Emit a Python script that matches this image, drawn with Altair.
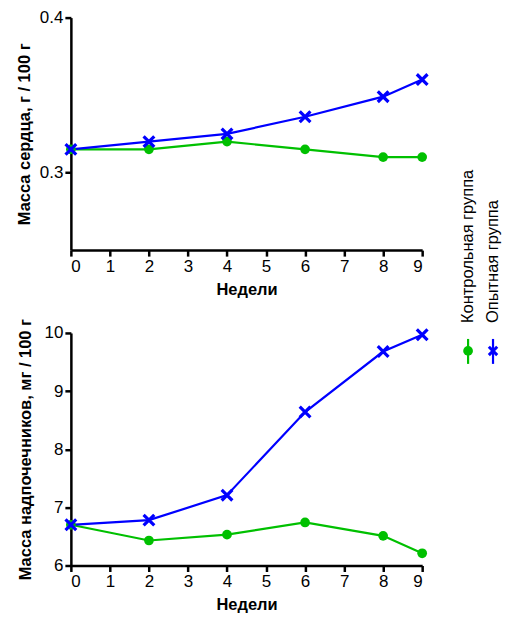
import altair as alt
import pandas as pd

weeks = [0, 2, 4, 6, 8, 9]
series_names = ["Контрольная группа", "Опытная группа"]
heart_control = [0.315, 0.315, 0.320, 0.315, 0.310, 0.310]
heart_exp = [0.315, 0.320, 0.325, 0.336, 0.349, 0.360]
adrenal_control = [6.70, 6.43, 6.53, 6.74, 6.51, 6.21]
adrenal_exp = [6.70, 6.78, 7.21, 8.64, 9.68, 9.97]
x_ticks = [0, 1, 2, 3, 4, 5, 6, 7, 8, 9]
heart_ticks = [0.3, 0.4]
adrenal_ticks = [6, 7, 8, 9, 10]

GREEN = "#00c000"
BLUE = "#0000ff"
XPATH = "M-1,-1L1,1M-1,1L1,-1"
FONT = "Liberation Sans"


def long_df(ctrl, exp):
    rows = []
    for w, v in zip(weeks, ctrl):
        rows.append({"week": w, "value": v, "series": series_names[0]})
    for w, v in zip(weeks, exp):
        rows.append({"week": w, "value": v, "series": series_names[1]})
    return pd.DataFrame(rows)


color = alt.Color("series:N", scale=alt.Scale(domain=series_names, range=[GREEN, BLUE]), legend=None)


def panel(df, ytitle, ydomain, yticks, yfmt, tpad):
    x = alt.X("week:Q", scale=alt.Scale(domain=[0, 9], nice=False),
              axis=alt.Axis(values=x_ticks, title="Недели", format="d", titlePadding=7))
    y = alt.Y("value:Q", scale=alt.Scale(domain=ydomain, nice=False, zero=False),
              axis=alt.Axis(values=yticks, title=ytitle, format=yfmt, titlePadding=tpad))
    base = alt.Chart(df).encode(x=x, y=y, color=color)
    line = base.mark_line(strokeWidth=2.2)
    pc = base.transform_filter(alt.datum.series == series_names[0]).mark_point(
        shape="circle", filled=True, size=95, opacity=1)
    px = base.transform_filter(alt.datum.series == series_names[1]).mark_point(
        shape=XPATH, filled=False, size=115, strokeWidth=3.2, opacity=1)
    return alt.layer(line, pc, px).properties(width=352, height=233)


top = panel(long_df(heart_control, heart_exp), "Масса сердца, г / 100 г", [0.25, 0.4], heart_ticks, ".1f", 7)
bottom = panel(long_df(adrenal_control, adrenal_exp), "Масса надпочечников, мг / 100 г", [6, 10], adrenal_ticks, "d", 11)

# custom rotated legend
leg_df = pd.DataFrame({"series": series_names})
lx = alt.X("series:N", scale=alt.Scale(type="point", padding=0, domain=series_names, range=[34, 59]), axis=None)
lbase = alt.Chart(leg_df).encode(x=lx, color=color)
leg_rule = lbase.mark_rule(strokeWidth=2.2).encode(y=alt.value(322), y2=alt.value(347))
leg_pc = lbase.transform_filter(alt.datum.series == series_names[0]).mark_point(
    shape="circle", filled=True, size=95, opacity=1).encode(y=alt.value(334))
leg_px = lbase.transform_filter(alt.datum.series == series_names[1]).mark_point(
    shape=XPATH, filled=False, size=70, strokeWidth=3, opacity=1).encode(y=alt.value(334))
leg_text = alt.Chart(leg_df).mark_text(angle=270, align="left", baseline="middle", font=FONT,
                                       fontSize=16.5, color="black").encode(
    x=lx, y=alt.value(306), text="series:N")
legend = alt.layer(leg_rule, leg_pc, leg_px, leg_text).properties(width=66, height=400)

chart = alt.hconcat(
    alt.vconcat(top, bottom, spacing=20),
    legend,
    spacing=0,
).configure_view(stroke=None).configure_axis(
    grid=False, domainColor="black", domainWidth=2.5, tickColor="black", tickWidth=2.5,
    tickSize=6, labelFont=FONT, labelFontSize=17, labelColor="black", labelPadding=2,
    titleFont=FONT, titleFontSize=16.5, titleFontWeight="bold", titleColor="black",
).properties(padding={"left": 8, "top": 0, "right": 0, "bottom": 0})

chart.save("out.html", embed_options={"renderer": "svg", "actions": False})
